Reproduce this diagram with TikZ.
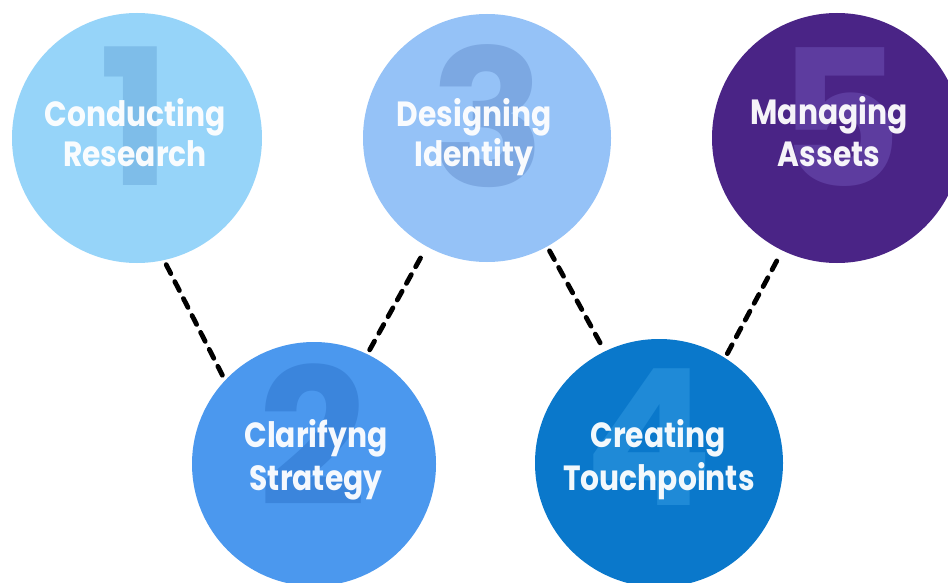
\documentclass[tikz,border=0pt]{standalone}
\usepackage{fontspec}
\newfontfamily\lab[FakeStretch=0.85]{Poppins}
\newfontfamily\digfont{Poppins}
\definecolor{fillA}{HTML}{96D4F9}\definecolor{digA}{HTML}{7EBDE9}
\definecolor{fillB}{HTML}{4B98EE}\definecolor{digB}{HTML}{3B85DC}
\definecolor{fillC}{HTML}{95C2F7}\definecolor{digC}{HTML}{7CA8E2}
\definecolor{fillD}{HTML}{0A78CB}\definecolor{digD}{HTML}{1F8AD7}
\definecolor{fillE}{HTML}{4A2486}\definecolor{digE}{HTML}{5D3C9F}
\tikzset{
  disc/.style={circle,draw=none,inner sep=0pt,outer sep=5pt,minimum size=#1},
  bignum/.style={inner sep=0pt,anchor=center,font=\digfont\bfseries\fontsize{190}{190}\selectfont},
  lbl/.style={inner sep=0pt,anchor=base,text=white,text opacity=0.95,font=\lab\bfseries\fontsize{35}{40}\selectfont},
  link/.style={line width=4.8pt,dash pattern=on 10pt off 9pt,line cap=round,black}
}
\begin{document}
\begin{tikzpicture}[x=1pt,y=-1pt]
\fill[white] (0,0) rectangle (948,583);
\clip (0,0) rectangle (948,583);
% circles
\node[disc=250pt,fill=fillA] (c1) at (137,138) {};
\node[disc=248pt,fill=fillC] (c3) at (487,138) {};
\node[disc=250pt,fill=fillE] (c5) at (837,138) {};
\node[disc=244pt,fill=fillB] (c2) at (314,464) {};
\node[disc=248pt,fill=fillD] (c4) at (659,463) {};
% big numbers
\node[bignum,text=digA] (n1) at (135,116) {1};
\node[bignum,text=digC] (n3) at (488,116) {3};
\node[bignum,text=digE] (n5) at (840,117) {5};
\node[bignum,text=digB] (n2) at (313,435) {2};
\node[bignum,text=digD] (n4) at (649,437) {4};
% labels
\node[lbl] (t1a) at (135,127) {Conducting};
\node[lbl] (t1b) at (135,167) {Research};
\node[lbl] (t3a) at (474,127) {Designing};
\node[lbl] (t3b) at (474,167) {Identity};
\node[lbl] (t5a) at (829,125) {Managing};
\node[lbl] (t5b) at (829,167) {Assets};
\node[lbl] (t2a) at (316,447) {Clarifyng};
\node[lbl] (t2b) at (316,490) {Strategy};
\node[lbl] (t4a) at (658,447) {Creating};
\node[lbl] (t4b) at (659,490) {Touchpoints};
% connectors
\draw[link] (c1.-77) -- (c2.136);
\draw[link] (c2.64) -- (c3.-119);
\draw[link] (c3.-61) -- (c4.116);
\draw[link] (c4.58) -- (c5.-116);
\end{tikzpicture}
\end{document}
